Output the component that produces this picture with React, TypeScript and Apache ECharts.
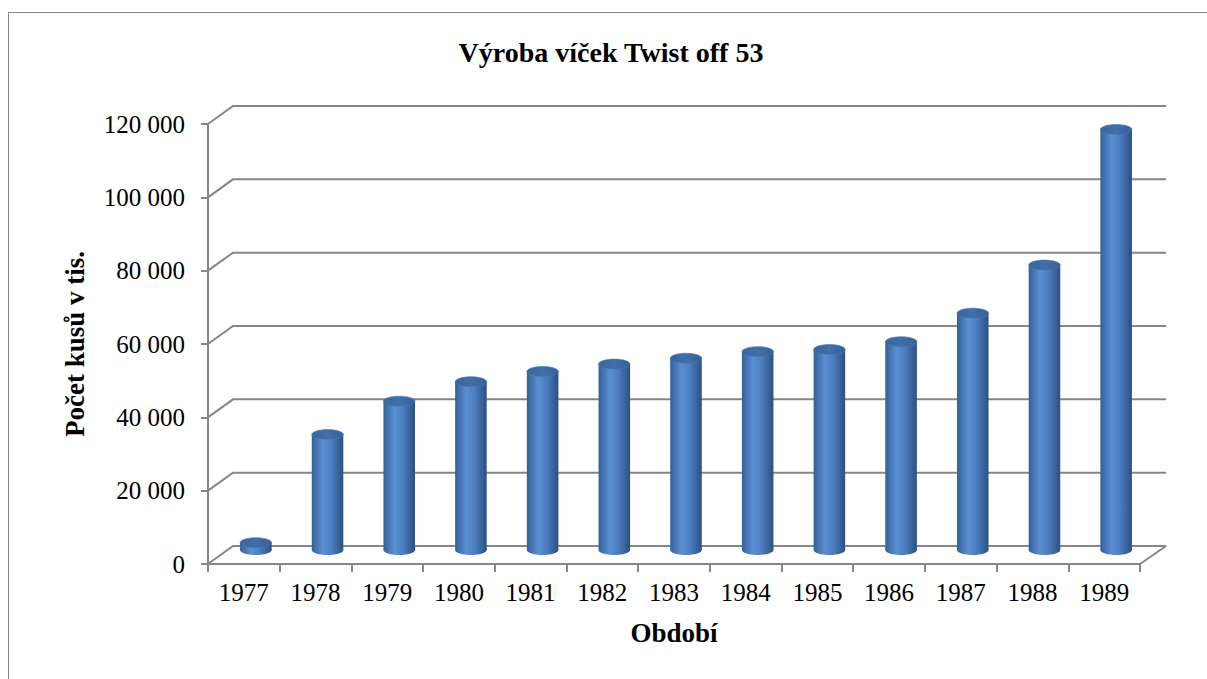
import React, { useEffect, useRef } from "react";
import * as echarts from "echarts";

const categories = ["1977", "1978", "1979", "1980", "1981", "1982", "1983", "1984", "1985", "1986", "1987", "1988", "1989"];
const production = [2000, 31500, 40600, 45900, 48700, 50700, 52300, 54100, 54700, 56800, 64600, 77700, 114700];
const yTicks = [0, 20000, 40000, 60000, 80000, 100000, 120000];
const titleText = "Výroba víček Twist off 53";
const yName = "Počet kusů v tis.";
const xName = "Období";

const SERIF = "'Liberation Serif', 'Times New Roman', serif";
const GRAY = "#868686";
const DEPTH_X = 25;
const DEPTH_Y = -18;
const BAR_DX = 12;
const BAR_DY = -14;

const fmt = (v: number) => String(v).replace(/\B(?=(\d{3})+(?!\d))/g, " ");

export default function App() {
  const ref = useRef<HTMLDivElement>(null);
  useEffect(() => {
    if (!ref.current) return;
    const chart = echarts.init(ref.current, undefined, { renderer: "svg" });
    const bodyGrad = {
      type: "linear", x: 0, y: 0, x2: 1, y2: 0,
      colorStops: [
        { offset: 0, color: "#33609a" },
        { offset: 0.35, color: "#5a8fd2" },
        { offset: 0.6, color: "#4d80c2" },
        { offset: 1, color: "#2c5082" },
      ],
    };
    const topGrad = {
      type: "linear", x: 0, y: 0, x2: 1, y2: 0,
      colorStops: [
        { offset: 0, color: "#3a659e" },
        { offset: 0.5, color: "#426fa9" },
        { offset: 1, color: "#36609a" },
      ],
    };
    chart.setOption({
      animation: false,
      backgroundColor: "#ffffff",
      graphic: [
        {
          type: "rect",
          shape: { x: 8.5, y: 12.5, width: 1400, height: 900 },
          style: { fill: "none", stroke: GRAY, lineWidth: 1 },
          silent: true,
        },
        {
          type: "text",
          x: 611,
          y: 52,
          style: {
            text: titleText,
            font: `bold 28px ${SERIF}`,
            fill: "#000",
            textAlign: "center",
            textVerticalAlign: "middle",
          },
        },
      ],
      grid: { left: 208, top: 124, width: 932, height: 440, containLabel: false },
      xAxis: {
        type: "category",
        data: categories,
        boundaryGap: true,
        name: xName,
        nameLocation: "middle",
        nameGap: 55,
        nameTextStyle: { fontFamily: SERIF, fontSize: 27, fontWeight: "bold", color: "#000" },
        axisLine: { show: true, lineStyle: { color: GRAY, width: 2 } },
        axisTick: { show: true, length: 8, interval: 0, lineStyle: { color: GRAY, width: 2 } },
        axisLabel: { interval: 0, margin: 16, fontFamily: SERIF, fontSize: 25, color: "#000" },
        splitLine: { show: false },
      },
      yAxis: {
        type: "value",
        min: 0,
        max: 120000,
        interval: 20000,
        name: yName,
        nameLocation: "middle",
        nameGap: 120,
        nameRotate: 90,
        nameTextStyle: { fontFamily: SERIF, fontSize: 27, fontWeight: "bold", color: "#000" },
        axisLine: { show: true, lineStyle: { color: GRAY, width: 2 } },
        axisTick: { show: true, length: 7, lineStyle: { color: GRAY, width: 2 } },
        axisLabel: { margin: 23, fontFamily: SERIF, fontSize: 25, color: "#000", formatter: (v: number) => fmt(v) },
        splitLine: { show: false },
      },
      series: [
        {
          type: "custom",
          z: 1,
          silent: true,
          data: yTicks.map((v) => [0, v]),
          encode: { x: 0, y: 1 },
          renderItem: (params: any, api: any) => {
            const cs = params.coordSys;
            const v = api.value(1);
            const y = api.coord([0, v])[1];
            const x0 = cs.x;
            const x1 = cs.x + cs.width;
            const children: any[] = [
              {
                type: "polyline",
                shape: { points: [[x0, y], [x0 + DEPTH_X, y + DEPTH_Y], [x1 + DEPTH_X + 1, y + DEPTH_Y]] },
                style: { stroke: GRAY, lineWidth: 2, fill: null },
              },
            ];
            if (v === 0) {
              children.push({
                type: "line",
                shape: { x1: x1, y1: y, x2: x1 + DEPTH_X + 1, y2: y + DEPTH_Y },
                style: { stroke: GRAY, lineWidth: 2 },
              });
            }
            return { type: "group", children };
          },
        },
        {
          type: "custom",
          z: 3,
          data: production.map((v, i) => [i, v]),
          encode: { x: 0, y: 1 },
          renderItem: (params: any, api: any) => {
            const idx = api.value(0);
            const val = api.value(1);
            const top = api.coord([idx, val]);
            const base = api.coord([idx, 0]);
            const bw = api.size([1, 0])[0] * 0.44;
            const rx = bw / 2;
            const ry = 5;
            const cx = top[0] + BAR_DX;
            const topY = top[1] + BAR_DY;
            const baseY = base[1] + BAR_DY;
            return {
              type: "group",
              children: [
                { type: "ellipse", shape: { cx, cy: baseY, rx, ry }, style: { fill: bodyGrad } },
                { type: "rect", shape: { x: cx - rx, y: topY, width: bw, height: Math.max(0, baseY - topY) }, style: { fill: bodyGrad } },
                { type: "ellipse", shape: { cx, cy: topY, rx, ry }, style: { fill: topGrad, stroke: "#4a78b5", lineWidth: 0.6 } },
              ],
            };
          },
        },
      ],
    });
    return () => chart.dispose();
  }, []);
  return (
    <div
      ref={ref}
      style={{ position: "absolute", left: 0, top: 0, width: 1207, height: 679 }}
    />
  );
}
